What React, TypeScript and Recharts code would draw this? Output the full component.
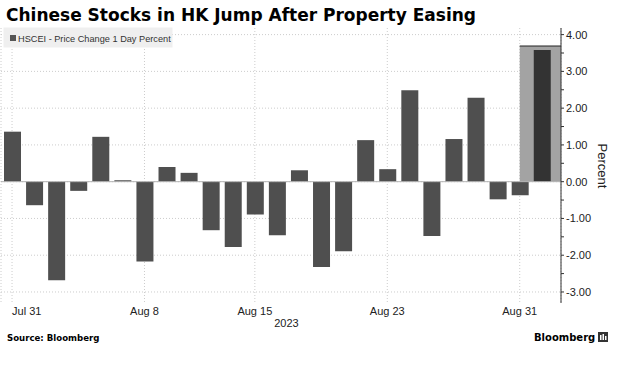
import React from "react";
import {
  BarChart,
  Bar,
  XAxis,
  YAxis,
  CartesianGrid,
  ReferenceArea,
  ReferenceLine,
  Cell,
} from "recharts";

const dates = [
  "Jul 31", "Aug 1", "Aug 2", "Aug 3", "Aug 4", "Aug 7", "Aug 8", "Aug 9",
  "Aug 10", "Aug 11", "Aug 14", "Aug 15", "Aug 16", "Aug 17", "Aug 18",
  "Aug 21", "Aug 22", "Aug 23", "Aug 24", "Aug 25", "Aug 28", "Aug 29",
  "Aug 30", "Aug 31", "Sep 1",
];
const values = [
  1.36, -0.64, -2.68, -0.25, 1.22, 0.04, -2.17, 0.4, 0.24, -1.32, -1.78,
  -0.89, -1.46, 0.31, -2.32, -1.89, 1.13, 0.34, 2.49, -1.48, 1.16, 2.28,
  -0.48, -0.37, 3.58,
];
const tickDates = ["Jul 31", "Aug 8", "Aug 15", "Aug 23", "Aug 31"];
const majorTicks = [-3, -2, -1, 0, 1, 2, 3, 4];
const minorTicks = [-3, -2.5, -2, -1.5, -1, -0.5, 0, 0.5, 1, 1.5, 2, 2.5, 3, 3.5, 4];
const highlightStart = "Aug 31";
const highlightTop = 3.69;
const yearLabel = "2023";

const data = dates.map((d, i) => ({ idx: i, date: d, value: values[i] }));
const xTicks = tickDates.map((d) => dates.indexOf(d));
const xMin = -0.5;
const xMax = dates.length - 0.5 + 0.37;
const hlStart = dates.indexOf(highlightStart);

const FONT = "'Liberation Sans', Arial, sans-serif";

const XTick = (props: any) => {
  const { x, y, payload, index } = props;
  const label = dates[payload.value];
  const first = index === 0;
  return (
    <text
      x={first ? Math.max(x, 9) : x}
      y={y}
      dy="0.71em"
      textAnchor={first && x - 16 < 9 ? "start" : "middle"}
      fontSize={11}
      fontFamily={FONT}
      fill="#222"
    >
      {label}
    </text>
  );
};

const YTick = (props: any) => {
  const { x, y, payload } = props;
  const v = payload.value;
  if (!Number.isInteger(v)) return <g />;
  return (
    <text x={x} y={y} dy="0.355em" textAnchor="start" fontSize={11} fontFamily={FONT} fill="#222">
      {v.toFixed(2)}
    </text>
  );
};

export default function App() {
  return (
    <div style={{ position: "absolute", left: 0, top: 0, width: 622, height: 366, background: "#fff" }}>
      <div style={{ position: "absolute", left: 0, top: 0 }}>
        <BarChart
          width={622}
          height={366}
          data={data}
          margin={{ top: 28, right: 0, left: 1, bottom: 0 }}
        >
          <CartesianGrid stroke="#cccccc" strokeDasharray="1 2" horizontalValues={majorTicks} />
          <ReferenceArea
            x1={hlStart}
            x2={xMax}
            y1={0}
            y2={highlightTop}
            fill="#a3a3a3"
            fillOpacity={1}
            stroke="none"
          />
          <ReferenceLine y={0} stroke="#b5b5b5" />
          <XAxis
            dataKey="idx"
            type="number"
            domain={[xMin, xMax]}
            ticks={xTicks}
            interval={0}
            axisLine={false}
            tickLine={false}
            tickSize={2}
            tickMargin={2}
            height={63}
            allowDataOverflow
            tick={<XTick />}
          />
          <YAxis
            orientation="right"
            domain={[-3.3, 4.18]}
            ticks={minorTicks}
            interval={0}
            allowDataOverflow
            width={61}
            tickSize={3}
            tickMargin={2}
            axisLine={{ stroke: "#333" }}
            tickLine={{ stroke: "#333" }}
            tick={<YTick />}
          />
          <Bar dataKey="value" barSize={17} isAnimationActive={false} fill="#4f4f4f">
            {data.map((d, i) => (
              <Cell key={d.date} fill={i === data.length - 1 ? "#333333" : "#4f4f4f"} />
            ))}
          </Bar>
          <ReferenceLine
            segment={[
              { x: hlStart, y: highlightTop },
              { x: xMax, y: highlightTop },
            ]}
            stroke="#222"
            strokeWidth={1}
          />
        </BarChart>
      </div>
      <svg width={622} height={366} style={{ position: "absolute", left: 0, top: 0, pointerEvents: "none" }}>
        <text x={6} y={21} fontFamily="'DejaVu Sans', sans-serif" fontWeight="bold" fontSize={17} fill="#000">
          Chinese Stocks in HK Jump After Property Easing
        </text>
        <rect x={3.5} y={27.5} width={169} height={20} fill="#efefef" />
        <rect x={10} y={35} width={6} height={6} fill="#555" />
        <text x={18} y={41.5} fontFamily={FONT} fontSize={9.2} fill="#333">
          HSCEI - Price Change 1 Day Percent
        </text>
        <text
          x={598}
          y={166}
          transform="rotate(90 598 166)"
          textAnchor="middle"
          fontFamily={FONT}
          fontSize={13}
          fill="#222"
        >
          Percent
        </text>
        <text x={286.5} y={327} textAnchor="middle" fontFamily={FONT} fontSize={11} fill="#222">
          {yearLabel}
        </text>
        <text x={7} y={340.5} fontFamily="'DejaVu Sans', sans-serif" fontWeight="bold" fontSize={8.6} fill="#000">
          Source:  Bloomberg
        </text>
        <text x={534} y={341} fontFamily="'DejaVu Sans', sans-serif" fontWeight="bold" fontSize={10} fill="#000">
          Bloomberg
        </text>
        <rect x={598} y={332} width={10} height={10} fill="#333" />
        <rect x={600} y={335} width={1.5} height={5} fill="#fff" />
        <rect x={602.5} y={334} width={1.5} height={6} fill="#fff" />
        <rect x={605} y={336} width={1.5} height={4} fill="#fff" />
      </svg>
    </div>
  );
}
